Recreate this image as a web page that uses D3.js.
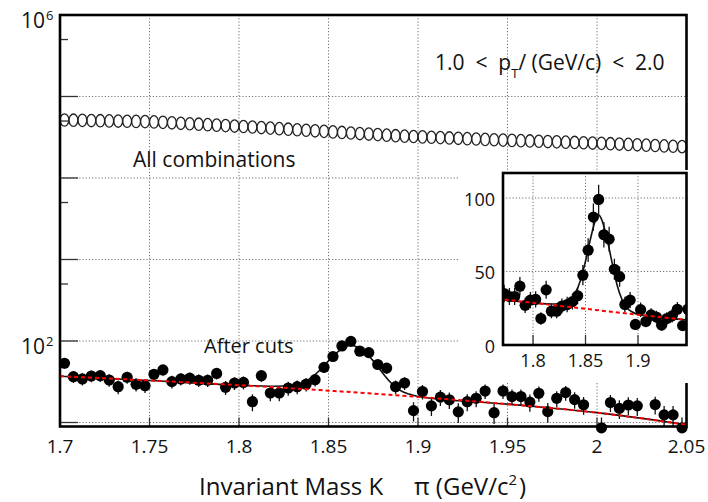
<!DOCTYPE html>
<html>
<head>
<meta charset="utf-8">
<script src="https://cdn.jsdelivr.net/npm/d3@7"></script>
<style>
  html, body { margin: 0; padding: 0; background: #fff; }
  svg { display: block; font-family: "Open Sans", "DejaVu Sans", sans-serif; }
</style>
</head>
<body>
<svg id="chart" width="708" height="502"></svg>
<script>
// ---- data -------------------------------------------------------------
// K-pi invariant mass bin centres, GeV/c^2 (5 MeV bins)
const massBins = [
  1.7025, 1.7075, 1.7125, 1.7175, 1.7225, 1.7275, 1.7325, 1.7375, 1.7425, 1.7475,
  1.7525, 1.7575, 1.7625, 1.7675, 1.7725, 1.7775, 1.7825, 1.7875, 1.7925, 1.7975,
  1.8025, 1.8075, 1.8125, 1.8175, 1.8225, 1.8275, 1.8325, 1.8375, 1.8425, 1.8475,
  1.8525, 1.8575, 1.8625, 1.8675, 1.8725, 1.8775, 1.8825, 1.8875, 1.8925, 1.8975,
  1.9025, 1.9075, 1.9125, 1.9175, 1.9225, 1.9275, 1.9325, 1.9375, 1.9425, 1.9475,
  1.9525, 1.9575, 1.9625, 1.9675, 1.9725, 1.9775, 1.9825, 1.9875, 1.9925, 1.9975,
  2.0025, 2.0075, 2.0125, 2.0175, 2.0225, 2.0275, 2.0325, 2.0375, 2.0425, 2.0475
];

// all K-pi pair combinations (counts per bin)
const allCombinations = [
  51480, 51200, 50960, 50700, 50440, 50200, 49950, 49690, 49460, 49210,
  48790, 48160, 47540, 46920, 46320, 45720, 45130, 44550, 43970, 43390,
  42830, 42220, 41580, 40950, 40320, 39710, 39110, 38510, 37920, 37350,
  36780, 36230, 35670, 35130, 34600, 34070, 33550, 33040, 32610, 32280,
  31960, 31630, 31310, 31000, 30680, 30380, 30080, 29770, 29480, 29190,
  28950, 28710, 28470, 28240, 28000, 27770, 27540, 27310, 27080, 26850,
  26630, 26360, 26090, 25820, 25550, 25290, 25030, 24770, 24520, 24270
];

// pairs surviving the topological cuts (null = empty bin)
const afterCuts = [
  53.3, 36.5, 34.2, 37.2, 37.5, 33.2, 27.5, 35.9, 29.4, 28.3,
  39.0, 44.1, 31.7, 34.2, 35.0, 33.0, 33.0, 40.0, 27.0, 30.5,
  31.0, 18.0, 37.5, 23.0, 23.0, 26.5, 27.5, 29.5, 33.5, 47.5,
  64.5, 87.0, 99.0, 75.0, 72.0, 51.5, 46.5, 27.5, 30.5, 14.0,
  24.0, 16.0, 20.5, 19.0, 13.5, 18.0, 19.8, 24.3, 13.2, 24.3,
  20.8, 20.8, 17.8, 22.8, 13.6, 19.8, 23.3, 19.1, 16.5, null,
  8.6, 17.6, 14.9, 16.4, 16.0, null, 16.6, 12.4, 12.4, 8.6
];

// fitted background (red dashed)
const bgMass  = [1.70, 1.75, 1.80, 1.85, 1.90, 1.95, 2.00, 2.05];
const bgValue = [37.0, 32.8, 28.7, 24.6, 20.6, 16.8, 13.2, 9.4];

// fitted signal + background (black)
const fitMass  = [1.70, 1.75, 1.80, 1.82, 1.83, 1.835, 1.84, 1.845, 1.85, 1.855, 1.86,
                  1.8625, 1.865, 1.87, 1.875, 1.88, 1.885, 1.89, 1.895, 1.90, 1.95, 2.00, 2.05];
const fitValue = [37.0, 32.8, 28.7, 27.9, 28.2, 30.0, 35.0, 43.5, 57.0, 73.0, 86.0,
                  88.5, 86.0, 74.0, 57.0, 41.0, 30.5, 24.8, 22.3, 20.8, 16.8, 13.2, 9.4];

// axis ticks and labels
const xTicksMain   = [1.7, 1.75, 1.8, 1.85, 1.9, 1.95, 2.0, 2.05];
const xTickLabels  = ["1.7", "1.75", "1.8", "1.85", "1.9", "1.95", "2", "2.05"];
const yDecades     = [1e1, 1e2, 1e3, 1e4, 1e5, 1e6];
const yMinorTicks  = [5e1, 5e2, 5e3, 5e4, 5e5];
const yLabelled    = [{v: 1e6, exp: "6"}, {v: 1e2, exp: "2"}];
const xTicksInset  = [1.8, 1.85, 1.9];
const yTicksInset  = [0, 50, 100];

// ---- layout -----------------------------------------------------------
const svg = d3.select("#chart");
const M = {left: 60, right: 686.5, top: 15, bottom: 426.5};
const I = {left: 503, right: 686.5, top: 173, bottom: 345};

const x = d3.scaleLinear().domain([1.7, 2.05]).range([M.left, M.right]);
const y = d3.scaleLog().domain([8.93, 1e6]).range([M.bottom, M.top]);
const xi = d3.scaleLinear().domain([1.7714, 1.9462]).range([I.left, I.right]);
const yi = d3.scaleLinear().domain([0, 117]).range([I.bottom, I.top]);

const ink = "#111";
const dotR = 5.6;
const gridStyle = g => g.attr("stroke", "#707070").attr("stroke-width", 1)
                        .attr("stroke-dasharray", "1.2,2").attr("fill", "none");

// ---- main frame: grid ---------------------------------------------------
const gMain = svg.append("g");
gMain.append("g").selectAll("line").data(xTicksMain.slice(1, -1)).join("line")
  .attr("x1", d => x(d)).attr("x2", d => x(d))
  .attr("y1", M.top).attr("y2", M.bottom).call(gridStyle);
gMain.append("g").selectAll("line").data(yDecades.slice(0, -1)).join("line")
  .attr("x1", M.left).attr("x2", M.right)
  .attr("y1", d => y(d)).attr("y2", d => y(d)).call(gridStyle);

// tick marks
gMain.append("g").selectAll("line").data(yDecades).join("line")
  .attr("x1", M.left).attr("x2", M.left + 18)
  .attr("y1", d => y(d)).attr("y2", d => y(d))
  .attr("stroke", "#333").attr("stroke-width", 1.3);
gMain.append("g").selectAll("line").data(yMinorTicks).join("line")
  .attr("x1", M.left).attr("x2", M.left + 8)
  .attr("y1", d => y(d)).attr("y2", d => y(d))
  .attr("stroke", "#333").attr("stroke-width", 1.3);
gMain.append("g").selectAll("line").data(xTicksMain).join("line")
  .attr("x1", d => x(d)).attr("x2", d => x(d))
  .attr("y1", M.bottom).attr("y2", M.bottom - 9)
  .attr("stroke", "#333").attr("stroke-width", 1.3);

// ---- all combinations (open markers) -----------------------------------
gMain.append("g").selectAll("ellipse").data(massBins).join("ellipse")
  .attr("cx", d => x(d))
  .attr("cy", (d, i) => y(allCombinations[i]))
  .attr("rx", 4.4).attr("ry", 6.2)
  .attr("fill", "none").attr("stroke", "#222").attr("stroke-width", 1.3);

// ---- after cuts --------------------------------------------------------
const cutPoints = massBins.map((m, i) => ({m, v: afterCuts[i]})).filter(d => d.v != null);

svg.append("clipPath").attr("id", "mainClip").append("rect")
  .attr("x", M.left).attr("y", M.top)
  .attr("width", M.right - M.left).attr("height", M.bottom - M.top);

const lineMain = (xs, vs) => d3.line().curve(d3.curveMonotoneX)
  .x((d, i) => x(xs[i])).y((d, i) => y(vs[i]))(xs);

gMain.append("path").attr("d", lineMain(fitMass, fitValue))
  .attr("fill", "none").attr("stroke", ink).attr("stroke-width", 1.6)
  .attr("clip-path", "url(#mainClip)");

gMain.append("g").attr("clip-path", "url(#mainClip)")
  .selectAll("line").data(cutPoints).join("line")
  .attr("x1", d => x(d.m)).attr("x2", d => x(d.m))
  .attr("y1", d => y(d.v + Math.sqrt(d.v)))
  .attr("y2", d => y(Math.max(d.v - Math.sqrt(d.v), 1)))
  .attr("stroke", ink).attr("stroke-width", 1.3);

gMain.append("g").selectAll("circle").data(cutPoints).join("circle")
  .attr("cx", d => x(d.m)).attr("cy", d => y(d.v)).attr("r", dotR)
  .attr("fill", "#000");

gMain.append("path").attr("d", lineMain(bgMass, bgValue))
  .attr("fill", "none").attr("stroke", "#f00").attr("stroke-width", 2)
  .attr("stroke-dasharray", "4,3").attr("clip-path", "url(#mainClip)");

// main frame
svg.append("rect").attr("x", M.left).attr("y", M.top)
  .attr("width", M.right - M.left).attr("height", M.bottom - M.top)
  .attr("fill", "none").attr("stroke", "#000").attr("stroke-width", 2.6);

// ---- main axis labels --------------------------------------------------
svg.append("g").selectAll("text").data(xTicksMain).join("text")
  .attr("x", d => x(d)).attr("y", 453)
  .attr("text-anchor", "middle").attr("font-size", 19).attr("fill", ink)
  .text((d, i) => xTickLabels[i]);

const yLab = svg.append("g").selectAll("g").data(yLabelled).join("g");
yLab.append("text")
  .attr("x", 45).attr("y", d => y(d.v) + 13)
  .attr("text-anchor", "end").attr("font-size", 21).attr("fill", ink).text("10");
yLab.append("text")
  .attr("x", 46).attr("y", d => y(d.v) + 5)
  .attr("font-size", 13).attr("fill", ink).text(d => d.exp);

const xTitle = svg.append("g").attr("font-size", 24).attr("fill", ink);
xTitle.append("text").attr("x", 199).attr("y", 495).text("Invariant Mass K");
const xt2 = xTitle.append("text").attr("x", 414).attr("y", 495);
xt2.append("tspan").text("π (GeV/c");
xt2.append("tspan").attr("font-size", 15).attr("dy", -10).text("2");
xt2.append("tspan").attr("dy", 10).attr("dx", 2).text(")");

// annotation texts
const pt = svg.append("text").attr("x", 435).attr("y", 70)
  .attr("font-size", 21).attr("fill", ink).style("white-space", "pre");
pt.append("tspan").text("1.0  <  p");
pt.append("tspan").attr("font-size", 13).attr("dy", 8).text("T");
pt.append("tspan").attr("dy", -8).text("/ (GeV/c)  <  2.0");

svg.append("text").attr("x", 133).attr("y", 167).attr("font-size", 21)
  .attr("fill", ink).text("All combinations");
svg.append("text").attr("x", 204).attr("y", 353).attr("font-size", 20)
  .attr("fill", ink).text("After cuts");

// ---- inset (linear zoom on the peak) -----------------------------------
const gIn = svg.append("g");
gIn.append("rect").attr("x", 458).attr("y", 170).attr("width", 235).attr("height", 213)
  .attr("fill", "#fff");

gIn.append("g").selectAll("line").data(xTicksInset).join("line")
  .attr("x1", d => xi(d)).attr("x2", d => xi(d))
  .attr("y1", I.top).attr("y2", I.bottom).call(gridStyle);
gIn.append("g").selectAll("line").data(yTicksInset.slice(1)).join("line")
  .attr("x1", I.left).attr("x2", I.right)
  .attr("y1", d => yi(d)).attr("y2", d => yi(d)).call(gridStyle);
gIn.append("g").selectAll("line").data(xTicksInset).join("line")
  .attr("x1", d => xi(d)).attr("x2", d => xi(d))
  .attr("y1", I.bottom).attr("y2", I.bottom - 10)
  .attr("stroke", "#333").attr("stroke-width", 1.3);

svg.append("clipPath").attr("id", "insetClip").append("rect")
  .attr("x", I.left).attr("y", I.top)
  .attr("width", I.right - I.left).attr("height", I.bottom - I.top);

const lineInset = (xs, vs) => d3.line().curve(d3.curveMonotoneX)
  .x((d, i) => xi(xs[i])).y((d, i) => yi(vs[i]))(xs);

const gInData = gIn.append("g").attr("clip-path", "url(#insetClip)");
gInData.append("path").attr("d", lineInset(fitMass, fitValue))
  .attr("fill", "none").attr("stroke", ink).attr("stroke-width", 1.6);
gInData.append("g").selectAll("line").data(cutPoints).join("line")
  .attr("x1", d => xi(d.m)).attr("x2", d => xi(d.m))
  .attr("y1", d => yi(d.v + Math.sqrt(d.v))).attr("y2", d => yi(d.v - Math.sqrt(d.v)))
  .attr("stroke", ink).attr("stroke-width", 1.3);
gInData.append("g").selectAll("circle").data(cutPoints).join("circle")
  .attr("cx", d => xi(d.m)).attr("cy", d => yi(d.v)).attr("r", dotR)
  .attr("fill", "#000");
gInData.append("path").attr("d", lineInset(bgMass, bgValue))
  .attr("fill", "none").attr("stroke", "#f00").attr("stroke-width", 2)
  .attr("stroke-dasharray", "4,3");

gIn.append("rect").attr("x", I.left).attr("y", I.top)
  .attr("width", I.right - I.left).attr("height", I.bottom - I.top)
  .attr("fill", "none").attr("stroke", "#000").attr("stroke-width", 2.6);

gIn.append("g").selectAll("text").data(yTicksInset).join("text")
  .attr("x", 495).attr("y", d => yi(d) + 8)
  .attr("text-anchor", "end").attr("font-size", 18).attr("fill", ink)
  .text(d => d);
gIn.append("g").selectAll("text").data(xTicksInset).join("text")
  .attr("x", d => xi(d)).attr("y", 367)
  .attr("text-anchor", "middle").attr("font-size", 18).attr("fill", ink)
  .text(d => d);
</script>
</body>
</html>
